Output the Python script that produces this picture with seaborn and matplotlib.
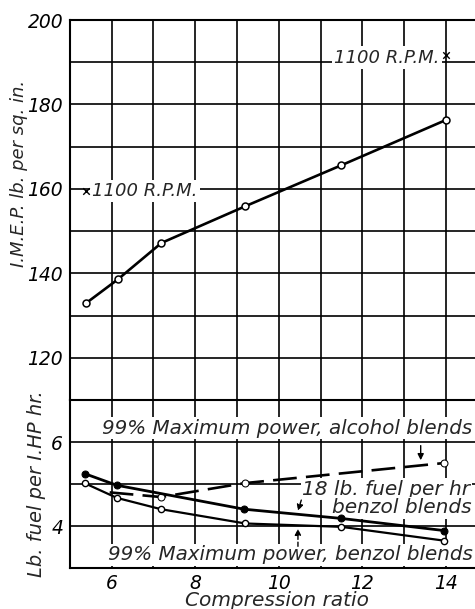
import numpy as np
import pandas as pd
import matplotlib
matplotlib.use("Agg")
import matplotlib.pyplot as plt
import seaborn as sns
from matplotlib.ticker import MultipleLocator, NullFormatter

# ---------------- data ----------------
imep_cr = [5.38, 6.15, 7.19, 9.2, 11.5, 14.0]
imep_val = [132.9, 138.6, 147.2, 155.9, 165.6, 176.3]

rpm_cr = [5.38, 14.0]
rpm_val = [159.5, 191.7]

alcohol_cr = [5.95, 7.18, 9.18, 13.97]
alcohol_val = [4.80, 4.69, 5.02, 5.50]

benzol18_cr = [5.37, 6.12, 9.17, 11.5, 13.97]
benzol18_val = [5.24, 4.97, 4.40, 4.18, 3.89]

benzol99_cr = [5.35, 6.12, 7.18, 9.2, 11.5, 13.97]
benzol99_val = [5.02, 4.67, 4.40, 4.06, 3.98, 3.65]

x_ticks = [6, 8, 10, 12, 14]
imep_ticks = [120, 140, 160, 180, 200]
fuel_ticks = [4, 6]

# ---------------- style ----------------
sns.set_theme(style="white")
plt.rcParams["font.family"] = ["DejaVu Sans"]
plt.rcParams["font.style"] = "italic"

fig = plt.figure(figsize=(4.75, 6.09), dpi=100)
L = 70 / 475
W = 1 - L
ax1 = fig.add_axes([L, 209 / 609, W, 380 / 609])
ax2 = fig.add_axes([L, 41 / 609, W, 168 / 609])

XMAX = 5 + 405 / 41.75

for ax in (ax1, ax2):
    ax.set_xlim(5, XMAX)
    ax.xaxis.set_minor_locator(MultipleLocator(1))
    ax.set_xticks(x_ticks)
    ax.grid(which="both", color="black", lw=1.2)
    ax.set_axisbelow(True)
    for s in ax.spines.values():
        s.set_color("black")
        s.set_linewidth(1.5)
    ax.spines["right"].set_visible(False)
    ax.tick_params(which="major", direction="out", length=3, width=1,
                   color="black", labelsize=13.5, pad=2, labelcolor="black")
    ax.tick_params(which="minor", length=0)
    ax.set_facecolor("white")

ax1.set_ylim(110, 200)
ax1.set_yticks(imep_ticks)
ax1.yaxis.set_minor_locator(MultipleLocator(10))
ax1.spines["bottom"].set_visible(False)
ax1.xaxis.set_major_formatter(NullFormatter())
ax1.tick_params(axis="x", which="major", length=0)

ax2.set_ylim(3, 7)
ax2.set_yticks(fuel_ticks)
ax2.yaxis.set_minor_locator(MultipleLocator(1))
ax2.tick_params(axis="x", which="major", pad=1.5)

# ---------------- top panel ----------------
df_imep = pd.DataFrame({"cr": imep_cr, "imep": imep_val})
sns.lineplot(data=df_imep, x="cr", y="imep", ax=ax1, color="black", lw=1.9,
             marker="o", markersize=5, markerfacecolor="white",
             markeredgecolor="black", markeredgewidth=1.1, zorder=5)
df_rpm = pd.DataFrame({"cr": rpm_cr, "imep": rpm_val})
sns.scatterplot(data=df_rpm, x="cr", y="imep", ax=ax1, marker="x", color="black",
                s=22, linewidth=1.0, zorder=6)
bb = dict(fc="white", ec="none", pad=1.5)
ax1.text(rpm_cr[0] + 0.15, rpm_val[0], "1100 R.P.M.", fontsize=13,
         ha="left", va="center", bbox=bb, zorder=4)
ax1.text(rpm_cr[1] - 0.15, rpm_val[1] - 0.6, "1100 R.P.M.", fontsize=13,
         ha="right", va="center", bbox=bb, zorder=4)
ax1.set_xlabel("")
ax1.set_ylabel("")

# ---------------- bottom panel ----------------
df_alc = pd.DataFrame({"cr": alcohol_cr, "fuel": alcohol_val})
sns.lineplot(data=df_alc, x="cr", y="fuel", ax=ax2, color="black", lw=1.9,
             dashes=False, zorder=5)
ax2.lines[-1].set_dashes([9, 3.5])
ax2.lines[-1].set_marker("o")
ax2.lines[-1].set_markevery([1, 2, 3])
ax2.lines[-1].set_markersize(5)
ax2.lines[-1].set_markerfacecolor("white")
ax2.lines[-1].set_markeredgecolor("black")

df_b18 = pd.DataFrame({"cr": benzol18_cr, "fuel": benzol18_val})
sns.lineplot(data=df_b18, x="cr", y="fuel", ax=ax2, color="black", lw=2.0,
             marker="o", markersize=5, markerfacecolor="black",
             markeredgecolor="black", zorder=6)

df_b99 = pd.DataFrame({"cr": benzol99_cr, "fuel": benzol99_val})
sns.lineplot(data=df_b99, x="cr", y="fuel", ax=ax2, color="black", lw=1.6,
             marker="o", markersize=4.5, markerfacecolor="white",
             markeredgecolor="black", markeredgewidth=1.0, zorder=7)
ax2.set_xlabel("")
ax2.set_ylabel("")

tb = dict(fc="white", ec="none", pad=1.0)
ax2.text(5.77, 6.33, "99% Maximum power, alcohol blends", fontsize=14.3,
         ha="left", va="center", bbox=tb, zorder=4)
ax2.text(10.56, 4.88, "18 lb. fuel per hr", fontsize=14.5,
         ha="left", va="center", bbox=tb, zorder=4)
ax2.text(11.28, 4.43, "benzol blends", fontsize=14.5,
         ha="left", va="center", bbox=tb, zorder=4)
ax2.text(5.91, 3.31, "99% Maximum power, benzol blends", fontsize=14.3,
         ha="left", va="center", bbox=tb, zorder=4)

ap = dict(arrowstyle="-|>", color="black", lw=1.0, mutation_scale=9)
ax2.annotate("", xy=(13.4, 5.5), xytext=(13.4, 5.98), arrowprops=ap, zorder=8)
ap2 = dict(arrowstyle="-|>", color="black", lw=1.0, mutation_scale=9, linestyle=(0, (3, 2)))
ax2.annotate("", xy=(10.44, 4.3), xytext=(10.56, 4.68), arrowprops=ap2, zorder=8)
ax2.annotate("", xy=(10.46, 4.0), xytext=(10.46, 3.45), arrowprops=ap2, zorder=8)

# ---------------- axis titles ----------------
fig.text(19 / 475, 1 - 173 / 609, "I.M.E.P. lb. per sq. in.", rotation=90,
         ha="center", va="center", fontsize=13)
fig.text(37 / 475, 1 - 484 / 609, "Lb. fuel per I.HP hr.", rotation=90,
         ha="center", va="center", fontsize=14)
fig.text(277 / 475, 1 - 601 / 609, "Compression ratio", ha="center",
         va="center", fontsize=14.5)

fig.savefig("out.png", dpi=100, facecolor="white")
